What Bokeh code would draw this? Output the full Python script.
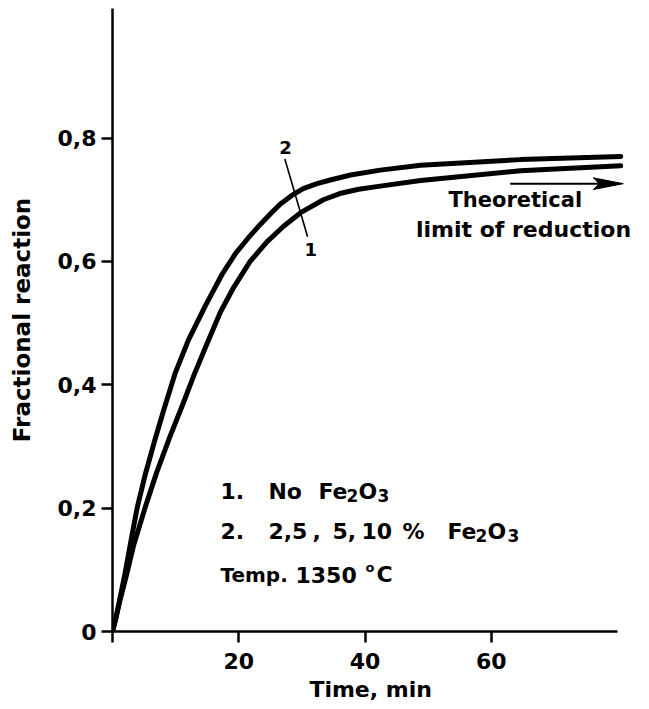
from bokeh.plotting import figure
from bokeh.models import Range1d, Label, FixedTicker
from bokeh.embed import file_html
from bokeh.resources import INLINE

# Curve 2: 2.5, 5 and 10 % Fe2O3 added
time_2 = [0, 0.5, 1.1, 2.0, 2.8, 3.9, 5.2, 6.7, 8.2, 9.9, 12.0, 14.7, 17.3, 19.5, 21.5, 23.4,
          25.0, 26.6, 28.4, 30.2, 32.4, 34.5, 37.7, 42.4, 48.8, 64.6, 80.5]
frac_2 = [0, 0.020, 0.050, 0.095, 0.140, 0.200, 0.255, 0.310, 0.362, 0.418, 0.472, 0.528, 0.578, 0.613, 0.638, 0.660,
          0.677, 0.693, 0.707, 0.718, 0.726, 0.732, 0.740, 0.748, 0.756, 0.765, 0.770]

# Curve 1: no Fe2O3
time_1 = [0, 0.5, 1.2, 2.3, 3.3, 5.2, 7.0, 9.1, 11.2, 13.0, 14.9, 17.1, 19.2, 21.8, 24.5,
          27.1, 29.8, 33.4, 36.0, 39.0, 42.4, 48.8, 64.6, 80.5]
frac_1 = [0, 0.020, 0.051, 0.095, 0.138, 0.202, 0.258, 0.316, 0.370, 0.418, 0.465, 0.518, 0.558, 0.600, 0.632,
          0.657, 0.679, 0.700, 0.710, 0.717, 0.722, 0.731, 0.747, 0.755]

x_ticks = [0, 20, 40, 60]
x_tick_labels = ["", "20", "40", "60"]
y_ticks = [0, 0.2, 0.4, 0.6, 0.8]
y_tick_labels = ["0", "0,2", "0,4", "0,6", "0,8"]

# theoretical limit of reduction (arrow)
limit_start = 63.0
limit_end = 80.9
limit_value = 0.726

# leader line naming the two curves
callout_time = [27.3, 30.9]
callout_frac = [0.766, 0.640]

FONT = "DejaVu Sans"
INK = "#000000"

p = figure(width=649, height=709, output_backend="svg", toolbar_location=None,
           x_range=Range1d(0, 83), y_range=Range1d(0, 1.01),
           min_border_left=112, min_border_right=13,
           min_border_top=8, min_border_bottom=78)
p.outline_line_color = None
p.grid.visible = False
p.background_fill_color = "white"
p.border_fill_color = "white"

# curves
p.line(time_2, frac_2, line_width=5, line_color=INK, line_join="round", line_cap="round")
p.line(time_1, frac_1, line_width=5, line_color=INK, line_join="round", line_cap="round")
p.line(callout_time, callout_frac, line_width=1.6, line_color=INK)

# arrow: shaft plus a slim notched head
head_len = 4.75
head_half = 0.0095
p.line([limit_start, limit_end - 3.8], [limit_value, limit_value], line_width=2, line_color=INK)
p.patch([limit_end, limit_end - head_len, limit_end - 3.8, limit_end - head_len],
        [limit_value, limit_value + head_half, limit_value, limit_value - head_half],
        fill_color=INK, line_color=INK, line_width=1)


def label(x, y, text, size="21px", align="left", dx=0, dy=0):
    p.add_layout(Label(x=x, y=y, x_offset=dx, y_offset=dy, text=text,
                       text_font=FONT, text_font_style="bold",
                       text_font_size=size, text_color=INK, text_align=align,
                       text_baseline="middle"))


label(27.4, 0.785, "2", size="18px", align="center")
label(31.4, 0.619, "1", size="18px", align="center")
label(63.8, 0.700, "Theoretical", size="21px", align="center")
label(65.1, 0.651, "limit of reduction", size="22px", align="center")

# key: each row starts at the same time value, pieces offset in pixels
KEY_X = 17.1
SUB = "17px"
MAIN = "22px"
row1, row2, row3 = 0.2275, 0.1626, 0.0924

label(KEY_X, row1, "1.", size=MAIN)
label(KEY_X, row1, "No", size=MAIN, dx=48)
label(KEY_X, row1, "Fe", size=MAIN, dx=98)
label(KEY_X, row1, "2", size=SUB, dx=126, dy=-4)
label(KEY_X, row1, "O", size=MAIN, dx=138)
label(KEY_X, row1, "3", size=SUB, dx=157, dy=-4)

label(KEY_X, row2, "2.", size=MAIN)
label(KEY_X, row2, "2,5", size=MAIN, dx=48)
label(KEY_X, row2, ",", size=MAIN, dx=92)
label(KEY_X, row2, "5,", size=MAIN, dx=112)
label(KEY_X, row2, "10", size=MAIN, dx=141)
label(KEY_X, row2, "%", size=MAIN, dx=182)
label(KEY_X, row2, "Fe", size=MAIN, dx=227)
label(KEY_X, row2, "2", size=SUB, dx=255, dy=-4)
label(KEY_X, row2, "O", size=MAIN, dx=267)
label(KEY_X, row2, "3", size=SUB, dx=287, dy=-4)

label(KEY_X, row3, "Temp.", size="20px")
label(KEY_X, row3, "1350", size=MAIN, dx=75)
label(KEY_X, row3, "o", size="13px", dx=145, dy=7)
label(KEY_X, row3, "C", size=MAIN, dx=156)

for ax in (p.xaxis[0], p.yaxis[0]):
    ax.axis_line_width = 2.5
    ax.axis_line_color = INK
    ax.major_tick_line_width = 2.5
    ax.major_tick_line_color = INK
    ax.major_tick_out = 11
    ax.major_tick_in = 0
    ax.minor_tick_out = 0
    ax.minor_tick_in = 0
    ax.major_label_text_font = FONT
    ax.major_label_text_font_style = "bold"
    ax.major_label_text_font_size = "22px"
    ax.major_label_text_color = INK
    ax.axis_label_text_font = FONT
    ax.axis_label_text_font_style = "bold"
    ax.axis_label_text_color = INK

p.xaxis[0].ticker = FixedTicker(ticks=x_ticks)
p.xaxis[0].major_label_overrides = dict(zip(x_ticks, x_tick_labels))
p.xaxis[0].bounds = (0, 80)
p.xaxis[0].axis_label = "Time,  min"
p.xaxis[0].axis_label_text_font_size = "22px"
p.xaxis[0].major_label_standoff = 10
p.xaxis[0].axis_label_standoff = 5

p.yaxis[0].ticker = FixedTicker(ticks=y_ticks)
p.yaxis[0].major_label_overrides = dict(zip(y_ticks, y_tick_labels))
p.yaxis[0].bounds = (0, 1.01)
p.yaxis[0].axis_label = "Fractional reaction"
p.yaxis[0].axis_label_text_font_size = "23px"
p.yaxis[0].major_label_standoff = 5
p.yaxis[0].axis_label_standoff = 20

open("out.html", "w").write(file_html(p, INLINE))
